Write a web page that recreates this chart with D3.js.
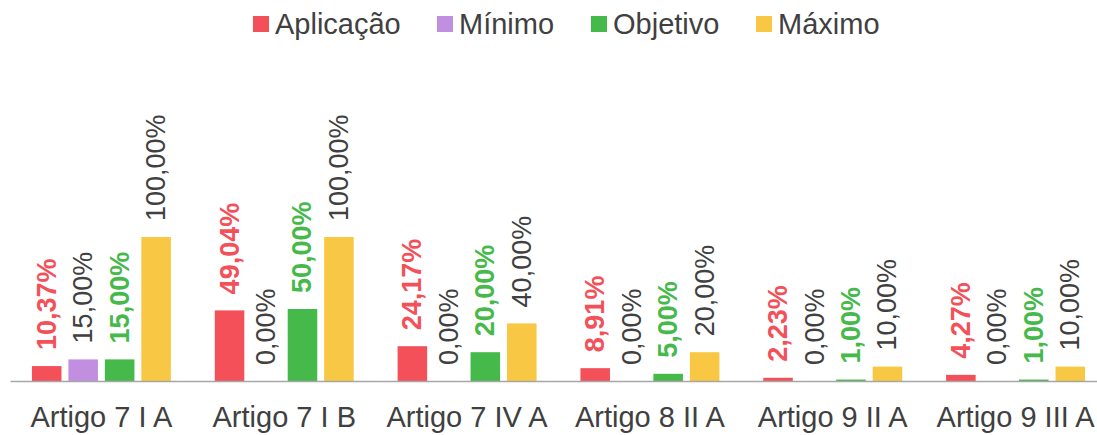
<!DOCTYPE html>
<html>
<head>
<meta charset="utf-8">
<script src="https://cdn.jsdelivr.net/npm/d3@7"></script>
<style>
  body { margin: 0; background: #fff; }
  svg { font-family: "Liberation Sans", Arial, sans-serif; }
</style>
</head>
<body>
<svg id="chart" width="1097" height="435"></svg>
<script>
// categories and series
const categories = ['Artigo 7 I A', 'Artigo 7 I B', 'Artigo 7 IV A', 'Artigo 8 II A', 'Artigo 9 II A', 'Artigo 9 III A'];
const seriesNames = ['Aplicação', 'Mínimo', 'Objetivo', 'Máximo'];
const aplicacao = [10.37, 49.04, 24.17, 8.91, 2.23, 4.27];
const minimo = [15.00, 0.00, 0.00, 0.00, 0.00, 0.00];
const objetivo = [15.00, 50.00, 20.00, 5.00, 1.00, 1.00];
const maximo = [100.00, 100.00, 40.00, 20.00, 10.00, 10.00];

const barColors = ['#f4505a', '#c28fe0', '#46b94b', '#f8c744'];
const labelColors = ['#f4505a', '#404040', '#46b94b', '#404040'];
const labelWeights = ['bold', 'normal', 'bold', 'normal'];

const values = [aplicacao, minimo, objetivo, maximo];

const data = categories.map((c, i) => ({
    cat: c,
    vals: seriesNames.map((s, j) => ({ key: s, idx: j, v: values[j][i] }))
}));

const svg = d3.select('#chart');

// scales
const x0 = d3.scaleBand()
    .domain(categories)
    .range([10, 1107])
    .paddingInner(0.24)
    .paddingOuter(0.12);

const x1 = d3.scaleBand()
    .domain(seriesNames)
    .range([0, x0.bandwidth()])
    .paddingInner(0.19);

const y = d3.scaleLinear()
    .domain([0, 100])
    .range([381, 237]);

const fmt = v => v.toFixed(2).replace('.', ',') + '%';

// bars
const groups = svg.append('g')
    .selectAll('g')
    .data(data)
    .join('g')
    .attr('transform', d => `translate(${x0(d.cat)},0)`);

groups.selectAll('rect')
    .data(d => d.vals)
    .join('rect')
    .attr('x', d => x1(d.key))
    .attr('y', d => y(d.v))
    .attr('width', x1.bandwidth())
    .attr('height', d => y(0) - y(d.v))
    .attr('fill', d => barColors[d.idx]);

// value labels, rotated
groups.selectAll('text')
    .data(d => d.vals)
    .join('text')
    .attr('transform', d => `translate(${x1(d.key) + x1.bandwidth() / 2},${y(d.v) - 16}) rotate(-90)`)
    .attr('text-anchor', 'start')
    .attr('dominant-baseline', 'central')
    .attr('font-size', 27)
    .attr('font-weight', d => labelWeights[d.idx])
    .attr('fill', d => labelColors[d.idx])
    .text(d => fmt(d.v));

// baseline axis
const xAxis = svg.append('g')
    .attr('transform', `translate(0,${y(0)})`)
    .call(d3.axisBottom(x0).tickSize(0).tickPadding(0));

xAxis.select('.domain')
    .attr('stroke', '#a6a6a6')
    .attr('stroke-width', 1.5);

xAxis.selectAll('text')
    .attr('y', 46)
    .attr('dy', 0)
    .attr('font-size', 29)
    .attr('font-family', '"Liberation Sans", Arial, sans-serif')
    .attr('fill', '#404040');

// legend
const legendX = [253, 437, 591, 756];
const legend = svg.append('g');
const items = legend.selectAll('g')
    .data(seriesNames)
    .join('g')
    .attr('transform', (d, i) => `translate(${legendX[i]},0)`);

items.append('rect')
    .attr('x', 0)
    .attr('y', 16)
    .attr('width', 16)
    .attr('height', 16)
    .attr('fill', (d, i) => barColors[i]);

items.append('text')
    .attr('x', 22)
    .attr('y', 34)
    .attr('font-size', 29)
    .attr('fill', '#404040')
    .text(d => d);
</script>
</body>
</html>
